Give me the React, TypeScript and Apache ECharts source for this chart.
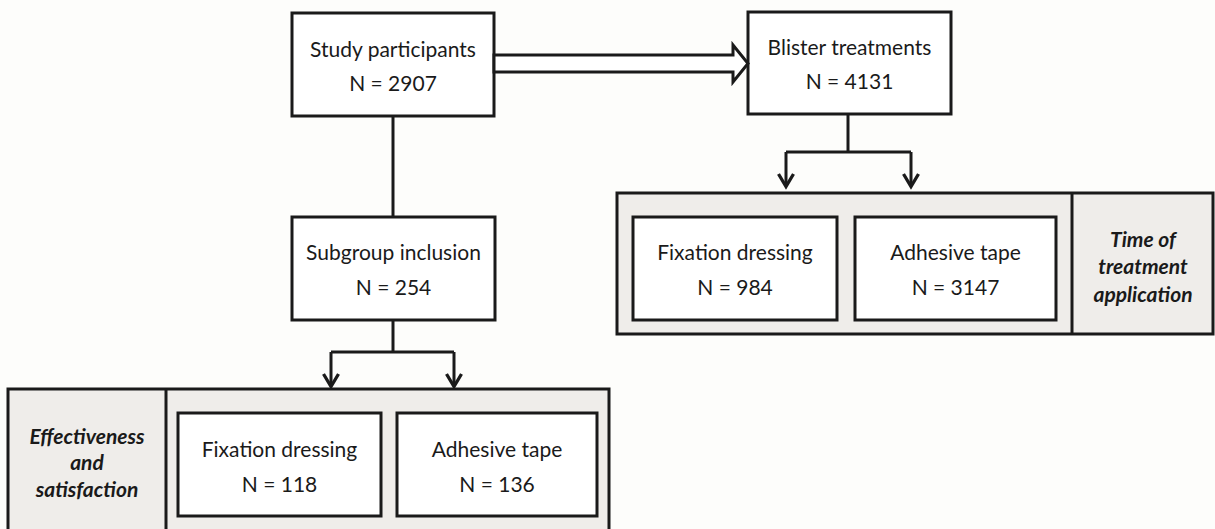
import React, { useEffect, useRef } from "react";
import * as echarts from "echarts";

// ---- Data ----
const boxTitles = ["Study participants", "Blister treatments", "Subgroup inclusion"];
const boxCounts = [2907, 4131, 254];
const armTitles = ["Fixation dressing", "Adhesive tape"];
const treatmentCounts = [984, 3147];
const subgroupCounts = [118, 136];
const treatmentLabel = ["Time of", "treatment", "application"];
const subgroupLabel = ["Effectiveness", "and", "satisfaction"];

const INK = "#1a1a1a";
const PANEL = "#efedea";
const BOXFILL = "#ffffff";
const FONT = "Lato, 'Noto Sans', sans-serif";
const FS = 21;
const LW = 3;

function rect(x1: number, y1: number, x2: number, y2: number, fill: string, lw = LW): any {
  return {
    type: "rect",
    shape: { x: x1, y: y1, width: x2 - x1, height: y2 - y1 },
    style: { fill, stroke: INK, lineWidth: lw },
  };
}
function line(x1: number, y1: number, x2: number, y2: number): any {
  return {
    type: "line",
    shape: { x1, y1, x2, y2 },
    style: { stroke: INK, lineWidth: LW },
  };
}
function text(t: string, x: number, y: number, bold = false): any {
  return {
    type: "text",
    style: {
      text: t,
      x,
      y,
      fill: INK,
      fontFamily: FONT,
      fontSize: FS,
      fontWeight: bold ? "bold" : "normal",
      fontStyle: bold ? "italic" : "normal",
      align: "center",
      verticalAlign: "middle",
      textAlign: "center",
      textVerticalAlign: "middle",
    },
  };
}
function downArrow(x: number, y1: number, y2: number): any[] {
  return [
    line(x, y1, x, y2 - 2),
    {
      type: "polyline",
      shape: { points: [[x - 7.5, y2 - 14], [x, y2 - 1.5], [x + 7.5, y2 - 14]] },
      style: { stroke: INK, lineWidth: LW + 0.3, fill: "none" },
    },
  ];
}
function box(x1: number, y1: number, x2: number, y2: number, title: string, n: number, fill: string, ty1: number, ty2: number): any[] {
  const cx = (x1 + x2) / 2;
  return [rect(x1, y1, x2, y2, fill), text(title, cx, ty1), text("N = " + n, cx, ty2)];
}

export default function App() {
  const ref = useRef<HTMLDivElement>(null);
  useEffect(() => {
    document.body.style.margin = "0";
    const chart = echarts.init(ref.current!, null, { renderer: "svg" });
    const els: any[] = [];

    // top boxes
    els.push(...box(292, 13, 494, 116, boxTitles[0], boxCounts[0], BOXFILL, 48, 82));
    els.push(...box(748, 12, 951, 114, boxTitles[1], boxCounts[1], BOXFILL, 46, 80));
    els.push(...box(292, 217, 495, 320, boxTitles[2], boxCounts[2], BOXFILL, 251, 286));

    // hollow arrow from study to blister
    els.push({
      type: "polygon",
      shape: {
        points: [
          [494, 55], [733, 55], [733, 45], [748, 63.5], [733, 82], [733, 72], [494, 72],
        ],
      },
      style: { fill: "#ffffff", stroke: INK, lineWidth: LW },
    });

    // study -> subgroup
    els.push(line(393, 116, 393, 217));
    // subgroup -> split
    els.push(line(393, 320, 393, 352));
    els.push(line(331, 352, 454, 352));
    els.push(...downArrow(331, 352, 388));
    els.push(...downArrow(454, 352, 388));

    // blister -> split
    els.push(line(848, 114, 848, 152));
    els.push(line(786, 152, 911, 152));
    els.push(...downArrow(786, 152, 188));
    els.push(...downArrow(911, 152, 188));

    // right panel
    els.push(rect(617, 193, 1213, 334, PANEL));
    els.push(line(1072, 193, 1072, 334));
    els.push(...box(633, 217, 837, 320, armTitles[0], treatmentCounts[0], BOXFILL, 251, 286));
    els.push(...box(855, 217, 1056, 320, armTitles[1], treatmentCounts[1], BOXFILL, 251, 286));
    treatmentLabel.forEach((t, i) => els.push(text(t, 1143, 238 + i * 27.5, true)));

    // bottom-left panel
    els.push(rect(8, 389, 609, 545, PANEL));
    els.push(line(166, 389, 166, 545));
    els.push(...box(178, 413, 381, 516, armTitles[0], subgroupCounts[0], BOXFILL, 448, 483));
    els.push(...box(397, 413, 597, 516, armTitles[1], subgroupCounts[1], BOXFILL, 448, 483));
    subgroupLabel.forEach((t, i) => els.push(text(t, 87, 435 + i * 26.5, true)));

    chart.setOption({
      animation: false,
      backgroundColor: "#fdfdfb",
      graphic: { elements: els },
    });
    return () => chart.dispose();
  }, []);
  return <div ref={ref} style={{ position: "absolute", left: 0, top: 0, width: 1215, height: 529 }} />;
}
